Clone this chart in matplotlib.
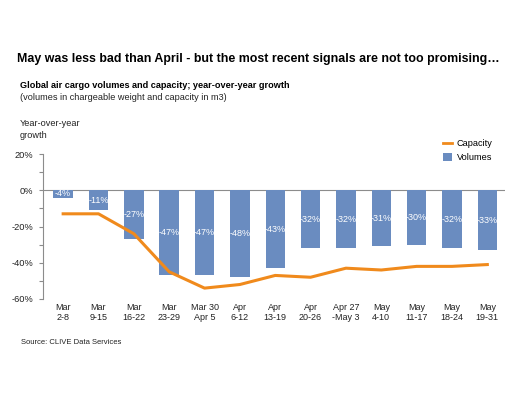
import matplotlib
matplotlib.use("Agg")
import matplotlib.pyplot as plt
from matplotlib.lines import Line2D
from matplotlib.patches import Patch

categories = ["Mar\n2-8", "Mar\n9-15", "Mar\n16-22", "Mar\n23-29", "Mar 30\nApr 5",
              "Apr\n6-12", "Apr\n13-19", "Apr\n20-26", "Apr 27\n-May 3", "May\n4-10",
              "May\n11-17", "May\n18-24", "May\n19-31"]
volumes = [-4, -11, -27, -47, -47, -48, -43, -32, -32, -31, -30, -32, -33]
capacity = [-13, -13, -24, -45, -54, -52, -47, -48, -43, -44, -42, -42, -41]
yticks = [20, 0, -20, -40, -60]

plt.rcParams['font.family'] = ['Liberation Sans', 'DejaVu Sans']

BLUE = "#6a8cc0"
ORANGE = "#f08a1c"
GREY = "#8c8c8c"

fig = plt.figure(figsize=(5.27, 3.97), dpi=100)
ax = fig.add_axes([43/527, 1-299/397, (505-43)/527, (299-154)/397])

x = list(range(len(categories)))
ax.bar(x, volumes, width=0.55, color=BLUE, zorder=2)
ax.plot(x, capacity, color=ORANGE, lw=2.2, zorder=3)

for xi, v in zip(x, volumes):
    ax.text(xi, v/2, f"{v}%", ha="center", va="center", color="white",
            fontsize=6.5, zorder=4)

ax.set_ylim(-60, 20)
ax.set_xlim(-0.57, 12.5)
ax.set_yticks(range(-60, 21, 10))
ax.set_yticklabels([f"{t}%" if t % 20 == 0 else "" for t in range(-60, 21, 10)])
ax.set_xticks(x)
ax.set_xticklabels(categories, fontsize=6.5, color="#222222", linespacing=1.15)
ax.tick_params(axis="y", labelsize=6.7, length=3, color=GREY, width=0.8,
               labelcolor="#222222", pad=4)
ax.tick_params(axis="x", length=0, pad=3)

for s in ["top", "right", "bottom"]:
    ax.spines[s].set_visible(False)
ax.spines["left"].set_color(GREY)
ax.spines["left"].set_linewidth(0.8)
ax.axhline(0, color=GREY, lw=0.8, zorder=1)

handles = [Line2D([0], [0], color=ORANGE, lw=2),
           Patch(facecolor=BLUE)]
fig.legend(handles, ["Capacity", "Volumes"], loc="upper left",
           bbox_to_anchor=(435/527, 1-131/397), frameon=False, fontsize=6.6,
           handlelength=1.0, handleheight=1.0, handletextpad=0.45, labelspacing=0.5)

fig.text(17/527, 1-59/397, "May was less bad than April - but the most recent signals are not too promising\u2026",
         fontsize=8.88, fontweight="bold", va="center", ha="left")
fig.text(20/527, 1-86/397, "Global air cargo volumes and capacity; year-over-year growth",
         fontsize=6.6, fontweight="bold", va="center", ha="left")
fig.text(20/527, 1-97/397, "(volumes in chargeable weight and capacity in m3)",
         fontsize=6.6, va="center", ha="left", color="#222222")
fig.text(20/527, 1-129.5/397, "Year-over-year\ngrowth",
         fontsize=6.6, va="center", ha="left", color="#222222", linespacing=1.3)
fig.text(21/527, 1-342/397, "Source: CLIVE Data Services",
         fontsize=5.5, va="center", ha="left", color="#222222")

fig.savefig("out.png", dpi=100, facecolor="white")
